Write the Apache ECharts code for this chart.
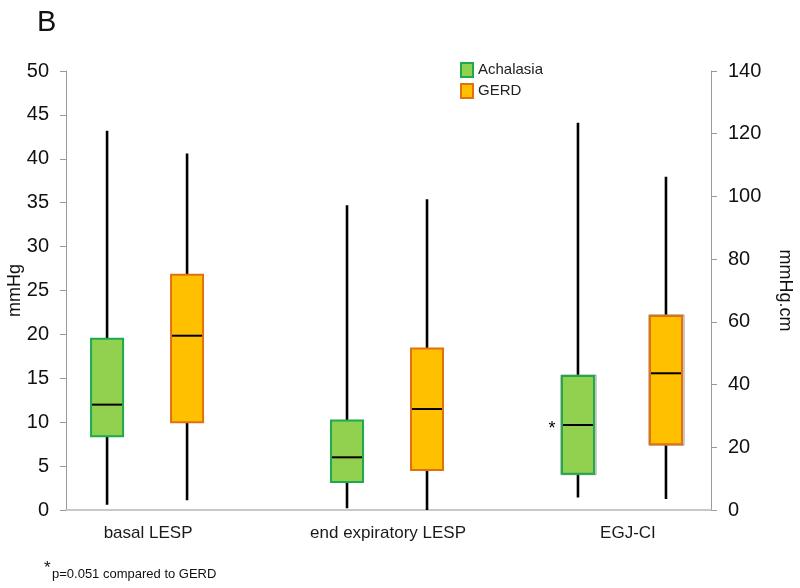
<!DOCTYPE html>
<html>
<head>
<meta charset="utf-8">
<script src="https://cdn.jsdelivr.net/npm/echarts@6/dist/echarts.min.js"></script>
<style>html,body{margin:0;padding:0;background:#fff;}#c{width:800px;height:588px;}</style>
</head>
<body>
<div id="c"></div>
<script>
// ---- data ----
const categories = ['basal LESP', 'end expiratory LESP', 'EGJ-CI'];
// [min, Q1, median, Q3, max]
const achalasia = [
  [0.6, 8.4, 12.0, 19.5, 43.2],
  [0.2, 3.2, 6.0, 10.2, 34.7],
  [4.0, 11.6, 27.1, 42.7, 123.5]
];
const gerd = [
  [1.1, 10.0, 19.85, 26.8, 40.6],
  [0.0, 4.55, 11.5, 18.4, 35.4],
  [3.5, 21.0, 43.6, 61.9, 106.3]
];
const achalasiaMarks = ['', '', '*'];
const leftTicks = [0, 5, 10, 15, 20, 25, 30, 35, 40, 45, 50];
const rightTicks = [0, 20, 40, 60, 80, 100, 120, 140];
const rightAxisCategory = 2; // EGJ-CI plotted on the right axis

// ---- layout helpers ----
const FONT = 'Liberation Sans, Arial, sans-serif';
const styles = {
  Achalasia: { fill: '#92D050', stroke: '#1DAA4C', offsets: [-41, -41, -50] },
  GERD: { fill: '#FFC000', stroke: '#E3700E', offsets: [39, 39, 38] }
};

function makeRender(name, marks) {
  const st = styles[name];
  return function (params, api) {
    const idx = api.value(0);
    const cx = api.coord([idx, 0])[0] + st.offsets[idx];
    const yMin = api.coord([idx, api.value(1)])[1];
    const yQ1 = api.coord([idx, api.value(2)])[1];
    const yMed = api.coord([idx, api.value(3)])[1];
    const yQ3 = api.coord([idx, api.value(4)])[1];
    const yMax = api.coord([idx, api.value(5)])[1];
    const hw = 16;
    const children = [
      { type: 'line', shape: { x1: cx, y1: yMax, x2: cx, y2: yMin },
        style: { stroke: '#000', lineWidth: 2.6 } }
    ];
    if (idx === rightAxisCategory) {
      children.push({ type: 'rect', shape: { x: cx - hw - 1, y: yQ3 - 1, width: 2 * hw + 3, height: yQ1 - yQ3 + 2 },
        style: { fill: 'none', stroke: '#9a8f88', lineWidth: 1 } });
    }
    children.push(
      { type: 'rect', shape: { x: cx - hw, y: yQ3, width: 2 * hw, height: yQ1 - yQ3 },
        style: { fill: st.fill, stroke: st.stroke, lineWidth: 2 } },
      { type: 'line', shape: { x1: cx - hw + 1, y1: yMed, x2: cx + hw - 1, y2: yMed },
        style: { stroke: '#000', lineWidth: 2 } }
    );
    if (marks && marks[idx]) {
      children.push({ type: 'text', x: cx - hw - 10, y: yMed + 4,
        style: { text: marks[idx], fill: '#000', font: '18px ' + FONT, align: 'center', verticalAlign: 'middle' } });
    }
    return { type: 'group', children: children };
  };
}

function seriesFor(name, values, marks) {
  const left = [], right = [];
  values.forEach((v, i) => {
    (i === rightAxisCategory ? right : left).push([i].concat(v));
  });
  const common = {
    type: 'custom', name: name, xAxisIndex: 0,
    renderItem: makeRender(name, marks),
    itemStyle: { color: styles[name].fill, borderColor: styles[name].stroke, borderWidth: 2 },
    encode: { x: 0, y: [1, 2, 3, 4, 5] },
    silent: true, animation: false
  };
  return [
    Object.assign({}, common, { yAxisIndex: 0, data: left }),
    Object.assign({}, common, { yAxisIndex: 1, data: right })
  ];
}

const chart = echarts.init(document.getElementById('c'), null, { renderer: 'canvas' });
chart.setOption({
  animation: false,
  backgroundColor: '#fff',
  textStyle: { fontFamily: FONT },
  title: {
    text: 'B', left: 32, top: 3,
    textStyle: { fontSize: 29, fontWeight: 'normal', color: '#111', fontFamily: FONT }
  },
  legend: {
    orient: 'vertical', left: 455, top: 57,
    itemWidth: 12, itemHeight: 14, itemGap: 5,
    icon: 'rect',
    data: ['Achalasia', 'GERD'],
    textStyle: { fontSize: 15, color: '#222', fontFamily: FONT },
    selectedMode: false
  },
  grid: { left: 66, right: 89, top: 71, bottom: 78, containLabel: false, outerBoundsMode: 'none' },
  xAxis: {
    type: 'value', min: -0.342, max: 2.346,
    axisLine: { show: true, onZero: false, lineStyle: { color: '#c8c8c8', width: 2 } },
    axisTick: { show: false },
    splitLine: { show: false },
    axisLabel: {
      customValues: [0, 1, 2],
      formatter: v => categories[Math.round(v)] || '',
      fontSize: 17, color: '#1a1a1a', margin: 15, fontFamily: FONT
    }
  },
  yAxis: [
    {
      type: 'value', min: leftTicks[0], max: leftTicks[leftTicks.length - 1],
      interval: leftTicks[1] - leftTicks[0],
      name: 'mmHg', nameLocation: 'middle', nameGap: 42, nameRotate: 90, nameMoveOverlap: false,
      nameTextStyle: { fontSize: 18, color: '#111', fontFamily: FONT },
      axisLine: { show: true, onZero: false, lineStyle: { color: '#9a9a9a', width: 1 } },
      axisTick: { show: true, length: 6, lineStyle: { color: '#9a9a9a' } },
      splitLine: { show: false },
      axisLabel: { fontSize: 20, color: '#111', margin: 17, fontFamily: FONT }
    },
    {
      type: 'value', min: rightTicks[0], max: rightTicks[rightTicks.length - 1],
      interval: rightTicks[1] - rightTicks[0],
      position: 'right',
      name: 'mmHg.cm', nameLocation: 'middle', nameGap: 65, nameRotate: -90, nameMoveOverlap: false,
      nameTextStyle: { fontSize: 18, color: '#111', fontFamily: FONT },
      axisLine: { show: true, onZero: false, lineStyle: { color: '#9a9a9a', width: 1 } },
      axisTick: { show: true, length: 6, lineStyle: { color: '#9a9a9a' } },
      splitLine: { show: false },
      axisLabel: { fontSize: 20, color: '#111', margin: 17, fontFamily: FONT }
    }
  ],
  graphic: [
    { type: 'text', left: 44, top: 560, style: { text: '*', fill: '#111', font: '17px ' + FONT } },
    { type: 'text', left: 52, top: 568, style: { text: 'p=0.051 compared to GERD', fill: '#111', font: '13px ' + FONT } }
  ],
  series: [].concat(
    seriesFor('Achalasia', achalasia, achalasiaMarks),
    seriesFor('GERD', gerd, null)
  )
});
</script>
</body>
</html>
